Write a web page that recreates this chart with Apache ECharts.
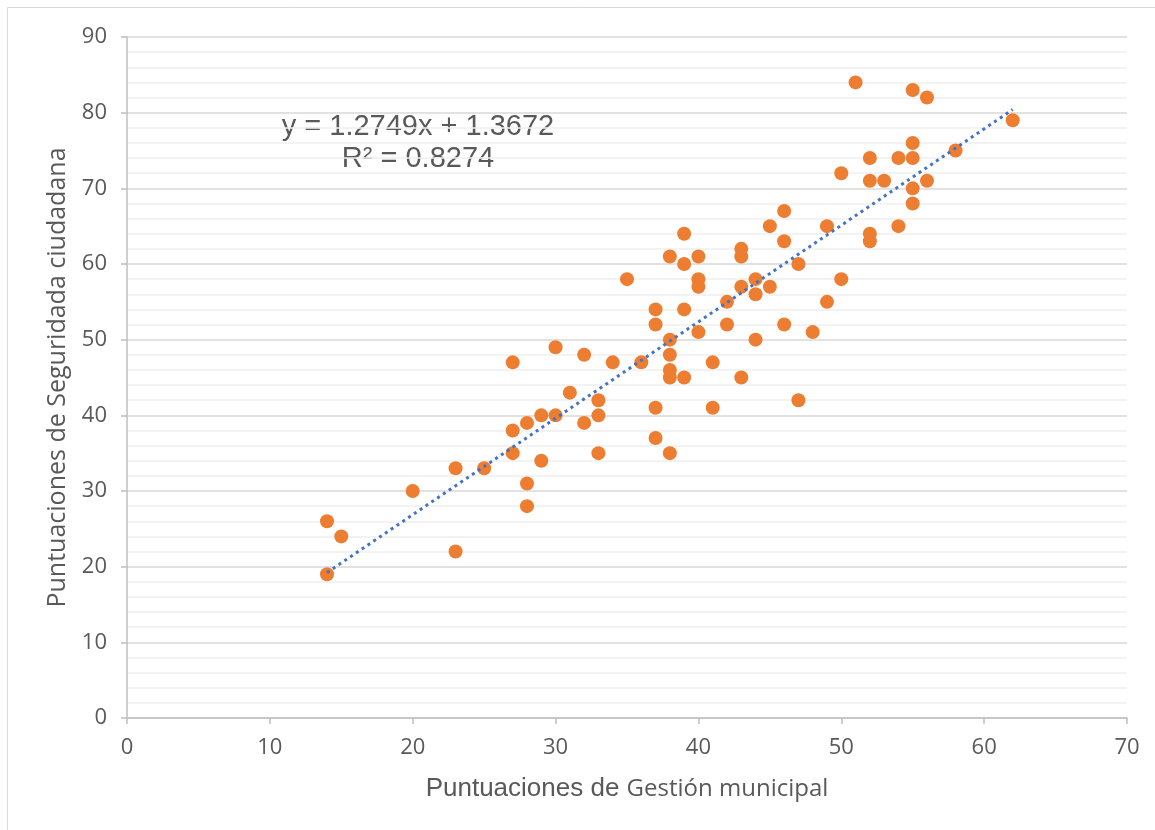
<!DOCTYPE html>
<html>
<head>
<meta charset="utf-8">
<script src="https://cdn.jsdelivr.net/npm/echarts@6/dist/echarts.min.js"></script>
<style>
html,body{margin:0;padding:0;background:#fff;}
#chart{width:1155px;height:830px;}
</style>
</head>
<body>
<div id="chart"></div>
<script>
// Puntuaciones de Gestión municipal (x)
const gestion = [14,15,14,20,23,23,25,27,27,27,28,28,28,29,29,30,30,31,32,32,33,33,33,34,35,36,
  37,37,37,37,38,38,38,38,38,38,39,39,39,39,40,40,40,40,41,41,42,42,43,43,43,43,44,44,44,
  45,45,46,46,46,47,47,48,49,49,50,50,51,52,52,52,52,53,54,54,55,55,55,55,55,56,56,58,62];
// Puntuaciones de Seguridad ciudadana (y)
const seguridad = [26,24,19,30,33,22,33,47,38,35,39,31,28,40,34,49,40,43,48,39,42,40,35,47,58,47,
  54,52,41,37,61,50,48,46,45,35,64,60,54,45,61,58,57,51,47,41,55,52,62,61,57,45,58,56,50,
  65,57,67,63,52,60,42,51,65,55,72,58,84,74,71,64,63,71,74,65,83,76,74,70,68,82,71,75,79];

const xTicks = [0,10,20,30,40,50,60,70];
const yTicks = [0,10,20,30,40,50,60,70,80,90];

// Linear trendline reported on the chart
const trendSlope = 1.2749;
const trendIntercept = 1.3672;
const trendR2 = 0.8274;

const points = gestion.map((g, i) => [g, seguridad[i]]);
const xMin = Math.min(...gestion), xMax = Math.max(...gestion);
const trendPoints = [xMin, xMax].map(x => [x, trendSlope * x + trendIntercept]);

const chart = echarts.init(document.getElementById('chart'), null, {renderer: 'canvas'});
const labelColor = '#595959';
chart.setOption({
  animation: false,
  backgroundColor: '#ffffff',
  grid: {left: 127, right: 28, top: 37, bottom: 112, containLabel: false},
  xAxis: {
    type: 'value', min: xTicks[0], max: xTicks[xTicks.length - 1], interval: 10,
    axisLine: {show: true, lineStyle: {color: '#bfbfbf', width: 1.5}},
    axisTick: {show: true, length: 6, inside: false, lineStyle: {color: '#bfbfbf', width: 1.5}},
    splitLine: {show: false},
    axisLabel: {color: labelColor, fontSize: 22, fontFamily: 'Open Sans', margin: 19},
    name: '{a|Puntuaciones de }{b|Gestión municipal}',
    nameLocation: 'middle', nameGap: 58,
    nameTextStyle: {
      rich: {
        a: {fontFamily: 'Liberation Sans', fontSize: 26, color: labelColor},
        b: {fontFamily: 'Open Sans', fontSize: 24, color: labelColor}
      }
    }
  },
  yAxis: {
    type: 'value', min: yTicks[0], max: yTicks[yTicks.length - 1], interval: 10,
    axisLine: {show: true, lineStyle: {color: '#bfbfbf', width: 1.5}},
    axisTick: {show: true, length: 6, inside: false, lineStyle: {color: '#bfbfbf', width: 1.5}},
    minorTick: {show: false, splitNumber: 5},
    splitLine: {show: true, lineStyle: {color: '#d9d9d9', width: 1.5}},
    minorSplitLine: {show: true, lineStyle: {color: '#f0f0f0', width: 1.5}},
    axisLabel: {color: labelColor, fontSize: 22, fontFamily: 'Open Sans', margin: 20},
    name: 'Puntuaciones de Seguridada ciudadana',
    nameLocation: 'middle', nameGap: 57,
    nameTextStyle: {fontFamily: 'Open Sans', fontSize: 25, color: labelColor}
  },
  graphic: [
    {type: 'rect', silent: true, z: -1,
     shape: {x: 7.5, y: 7.5, width: 1300, height: 1000},
     style: {fill: 'none', stroke: '#d9d9d9', lineWidth: 1}},
    {type: 'text', silent: true, position: [418, 127],
     style: {text: 'y = ' + trendSlope.toFixed(4) + 'x + ' + trendIntercept.toFixed(4),
       font: '29px "Liberation Sans"', fill: labelColor, textAlign: 'center', textVerticalAlign: 'middle'}},
    {type: 'text', silent: true, position: [418, 159],
     style: {text: 'R² = ' + trendR2.toFixed(4),
       font: '29px "Liberation Sans"', fill: labelColor, textAlign: 'center', textVerticalAlign: 'middle'}}
  ],
  series: [
    {type: 'scatter', data: points, symbol: 'circle', symbolSize: 14,
     itemStyle: {color: '#ED7D31', opacity: 1}, z: 2},
    {type: 'line', data: trendPoints, symbol: 'none', z: 3,
     lineStyle: {color: '#4472C4', width: 3, type: [3, 4], cap: 'butt'}}
  ]
});
</script>
</body>
</html>
